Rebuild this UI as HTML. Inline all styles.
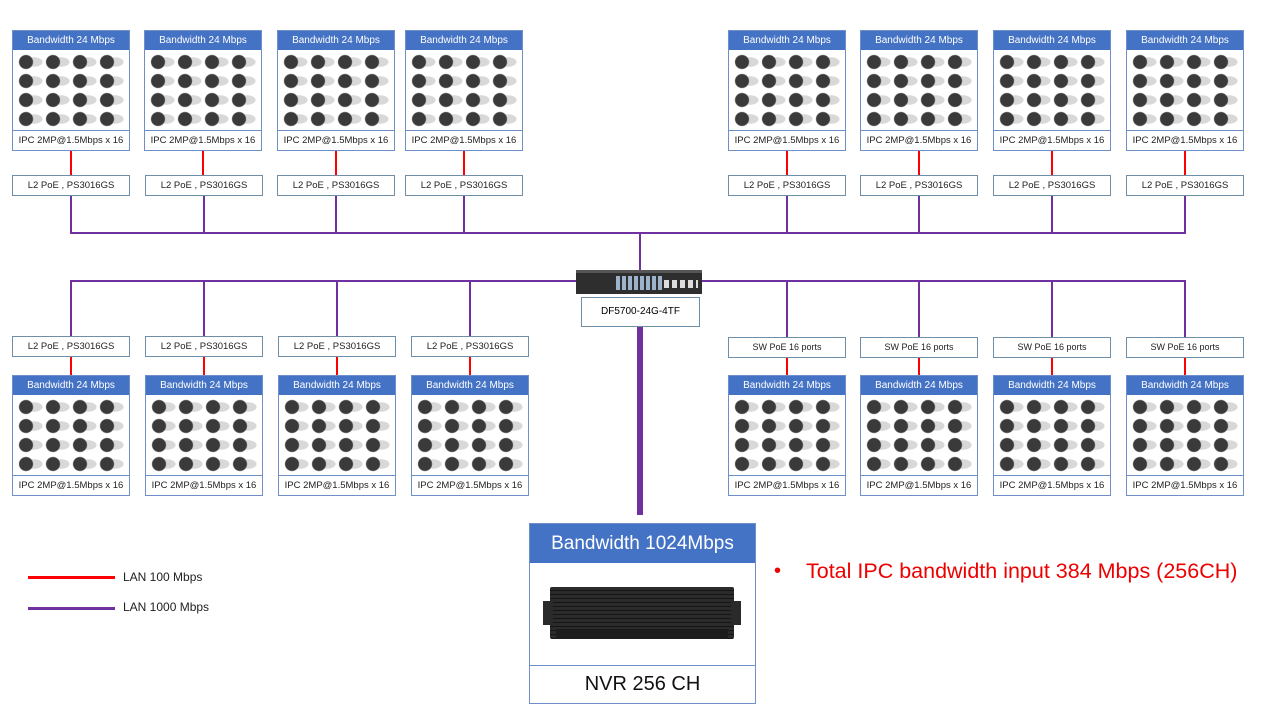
<!DOCTYPE html>
<html><head><meta charset="utf-8"><style>
*{margin:0;padding:0;box-sizing:border-box}
body{width:1280px;height:720px;background:#fff;position:relative;overflow:hidden;font-family:"Liberation Sans",sans-serif}
.a{position:absolute}
.cam{position:absolute;width:118px;height:121px;border:1.5px solid #6f8fc9;background:#fff}
.cam .h{height:19px;background:#4472c4;color:#fff;font-size:10px;text-align:center;line-height:19px}
.cam .g{height:81px;border-bottom:1.5px solid #6f8fc9;background:#fff;position:relative}
.cam .g::after{content:"";position:absolute;left:4px;top:3px;width:108px;height:76px;
background-image:radial-gradient(circle at 9px 9px,#3a3a3a 6.5px,transparent 7.5px),radial-gradient(ellipse 9px 5px at 17px 9px,#d8d8d8 90%,transparent 100%);
background-size:27px 19px}
.cam .l{font-size:9.5px;text-align:center;line-height:19px;color:#222}
.sw{position:absolute;width:118px;height:21px;border:1px solid #6f8fa8;background:#fff;font-size:9.5px;text-align:center;line-height:19px;color:#222}
.r{position:absolute;width:2px;background:#f00}
.p{position:absolute;background:#7030a0}
</style></head><body>
<div class="p" style="left:70px;top:232px;width:1116px;height:2px"></div>
<div class="p" style="left:639px;top:232px;width:2px;height:40px"></div>
<div class="p" style="left:70px;top:280px;width:506px;height:2px"></div>
<div class="p" style="left:702px;top:280px;width:484px;height:2px"></div>
<div class="p" style="left:637px;top:327px;width:6px;height:188px"></div>
<div class="p" style="left:70px;top:196px;width:2px;height:37px"></div>
<div class="p" style="left:203px;top:196px;width:2px;height:37px"></div>
<div class="p" style="left:335px;top:196px;width:2px;height:37px"></div>
<div class="p" style="left:463px;top:196px;width:2px;height:37px"></div>
<div class="p" style="left:786px;top:196px;width:2px;height:37px"></div>
<div class="p" style="left:918px;top:196px;width:2px;height:37px"></div>
<div class="p" style="left:1051px;top:196px;width:2px;height:37px"></div>
<div class="p" style="left:1184px;top:196px;width:2px;height:37px"></div>
<div class="p" style="left:70px;top:281px;width:2px;height:56px"></div>
<div class="p" style="left:203px;top:281px;width:2px;height:56px"></div>
<div class="p" style="left:336px;top:281px;width:2px;height:56px"></div>
<div class="p" style="left:469px;top:281px;width:2px;height:56px"></div>
<div class="p" style="left:786px;top:281px;width:2px;height:56px"></div>
<div class="p" style="left:918px;top:281px;width:2px;height:56px"></div>
<div class="p" style="left:1051px;top:281px;width:2px;height:56px"></div>
<div class="p" style="left:1184px;top:281px;width:2px;height:56px"></div>
<div class="r" style="left:70px;top:150px;height:25px"></div>
<div class="r" style="left:202px;top:150px;height:25px"></div>
<div class="r" style="left:335px;top:150px;height:25px"></div>
<div class="r" style="left:463px;top:150px;height:25px"></div>
<div class="r" style="left:786px;top:150px;height:25px"></div>
<div class="r" style="left:918px;top:150px;height:25px"></div>
<div class="r" style="left:1051px;top:150px;height:25px"></div>
<div class="r" style="left:1184px;top:150px;height:25px"></div>
<div class="r" style="left:70px;top:356px;height:20px"></div>
<div class="r" style="left:203px;top:356px;height:20px"></div>
<div class="r" style="left:336px;top:356px;height:20px"></div>
<div class="r" style="left:469px;top:356px;height:20px"></div>
<div class="r" style="left:786px;top:357px;height:19px"></div>
<div class="r" style="left:918px;top:357px;height:19px"></div>
<div class="r" style="left:1051px;top:357px;height:19px"></div>
<div class="r" style="left:1184px;top:357px;height:19px"></div>
<div class="cam" style="left:12px;top:30px"><div class="h">Bandwidth 24 Mbps</div><div class="g"></div><div class="l">IPC 2MP@1.5Mbps x 16</div></div>
<div class="cam" style="left:144px;top:30px"><div class="h">Bandwidth 24 Mbps</div><div class="g"></div><div class="l">IPC 2MP@1.5Mbps x 16</div></div>
<div class="cam" style="left:277px;top:30px"><div class="h">Bandwidth 24 Mbps</div><div class="g"></div><div class="l">IPC 2MP@1.5Mbps x 16</div></div>
<div class="cam" style="left:405px;top:30px"><div class="h">Bandwidth 24 Mbps</div><div class="g"></div><div class="l">IPC 2MP@1.5Mbps x 16</div></div>
<div class="cam" style="left:728px;top:30px"><div class="h">Bandwidth 24 Mbps</div><div class="g"></div><div class="l">IPC 2MP@1.5Mbps x 16</div></div>
<div class="cam" style="left:860px;top:30px"><div class="h">Bandwidth 24 Mbps</div><div class="g"></div><div class="l">IPC 2MP@1.5Mbps x 16</div></div>
<div class="cam" style="left:993px;top:30px"><div class="h">Bandwidth 24 Mbps</div><div class="g"></div><div class="l">IPC 2MP@1.5Mbps x 16</div></div>
<div class="cam" style="left:1126px;top:30px"><div class="h">Bandwidth 24 Mbps</div><div class="g"></div><div class="l">IPC 2MP@1.5Mbps x 16</div></div>
<div class="sw" style="left:12px;top:175px">L2 PoE , PS3016GS</div>
<div class="sw" style="left:145px;top:175px">L2 PoE , PS3016GS</div>
<div class="sw" style="left:277px;top:175px">L2 PoE , PS3016GS</div>
<div class="sw" style="left:405px;top:175px">L2 PoE , PS3016GS</div>
<div class="sw" style="left:728px;top:175px">L2 PoE , PS3016GS</div>
<div class="sw" style="left:860px;top:175px">L2 PoE , PS3016GS</div>
<div class="sw" style="left:993px;top:175px">L2 PoE , PS3016GS</div>
<div class="sw" style="left:1126px;top:175px">L2 PoE , PS3016GS</div>
<div class="sw" style="left:12px;top:336px">L2 PoE , PS3016GS</div>
<div class="sw" style="left:145px;top:336px">L2 PoE , PS3016GS</div>
<div class="sw" style="left:278px;top:336px">L2 PoE , PS3016GS</div>
<div class="sw" style="left:411px;top:336px">L2 PoE , PS3016GS</div>
<div class="sw" style="left:728px;top:337px;font-size:9px">SW PoE 16 ports</div>
<div class="sw" style="left:860px;top:337px;font-size:9px">SW PoE 16 ports</div>
<div class="sw" style="left:993px;top:337px;font-size:9px">SW PoE 16 ports</div>
<div class="sw" style="left:1126px;top:337px;font-size:9px">SW PoE 16 ports</div>
<div class="cam" style="left:12px;top:375px"><div class="h">Bandwidth 24 Mbps</div><div class="g"></div><div class="l">IPC 2MP@1.5Mbps x 16</div></div>
<div class="cam" style="left:145px;top:375px"><div class="h">Bandwidth 24 Mbps</div><div class="g"></div><div class="l">IPC 2MP@1.5Mbps x 16</div></div>
<div class="cam" style="left:278px;top:375px"><div class="h">Bandwidth 24 Mbps</div><div class="g"></div><div class="l">IPC 2MP@1.5Mbps x 16</div></div>
<div class="cam" style="left:411px;top:375px"><div class="h">Bandwidth 24 Mbps</div><div class="g"></div><div class="l">IPC 2MP@1.5Mbps x 16</div></div>
<div class="cam" style="left:728px;top:375px"><div class="h">Bandwidth 24 Mbps</div><div class="g"></div><div class="l">IPC 2MP@1.5Mbps x 16</div></div>
<div class="cam" style="left:860px;top:375px"><div class="h">Bandwidth 24 Mbps</div><div class="g"></div><div class="l">IPC 2MP@1.5Mbps x 16</div></div>
<div class="cam" style="left:993px;top:375px"><div class="h">Bandwidth 24 Mbps</div><div class="g"></div><div class="l">IPC 2MP@1.5Mbps x 16</div></div>
<div class="cam" style="left:1126px;top:375px"><div class="h">Bandwidth 24 Mbps</div><div class="g"></div><div class="l">IPC 2MP@1.5Mbps x 16</div></div>
<div class="a" style="left:576px;top:270px;width:126px;height:24px;background:#2e2e2e;border-top:3px solid #555">
 <div class="a" style="left:40px;top:3px;width:46px;height:14px;background:repeating-linear-gradient(90deg,#9db3cc 0 4px,#2e2e2e 4px 6px)"></div>
 <div class="a" style="left:88px;top:7px;width:34px;height:8px;background:repeating-linear-gradient(90deg,#ddd 0 5px,#2e2e2e 5px 8px)"></div>
</div>
<div class="a" style="left:581px;top:297px;width:119px;height:30px;border:1px solid #6f8fa8;background:#fff;font-size:10px;text-align:center;line-height:28px">DF5700-24G-4TF</div>
<div class="a" style="left:529px;top:523px;width:227px;height:181px;border:1.5px solid #6f8fc9;background:#fff">
 <div style="height:39px;background:#4472c4;color:#fff;font-size:19px;text-align:center;line-height:39px">Bandwidth 1024Mbps</div>
 <div style="height:103px;border-bottom:1.5px solid #6f8fc9;position:relative">
  <div class="a" style="left:20px;top:24px;width:184px;height:52px;background:repeating-linear-gradient(180deg,#2b2b2b 0 3px,#151515 3px 4px);border-radius:2px"></div>
  <div class="a" style="left:26px;top:66px;width:172px;height:10px;background:#1c1c1c"></div>
  <div class="a" style="left:13px;top:38px;width:10px;height:24px;background:#2a2a2a"></div>
  <div class="a" style="left:201px;top:38px;width:10px;height:24px;background:#2a2a2a"></div>
 </div>
 <div style="font-size:20px;text-align:center;line-height:36px;color:#111">NVR 256 CH</div>
</div>
<div class="a" style="left:28px;top:576px;width:87px;height:3px;background:#f00"></div>
<div class="a" style="left:123px;top:570px;font-size:12px;color:#222">LAN 100 Mbps</div>
<div class="a" style="left:28px;top:607px;width:87px;height:3px;background:#7030a0"></div>
<div class="a" style="left:123px;top:600px;font-size:12px;color:#222">LAN 1000 Mbps</div>
<div class="a" style="left:774px;top:560px;font-size:20px;color:#e00">•</div>
<div class="a" style="left:806px;top:559px;font-size:21.5px;color:#e00;white-space:nowrap">Total IPC bandwidth input 384 Mbps (256CH)</div>
</body></html>
